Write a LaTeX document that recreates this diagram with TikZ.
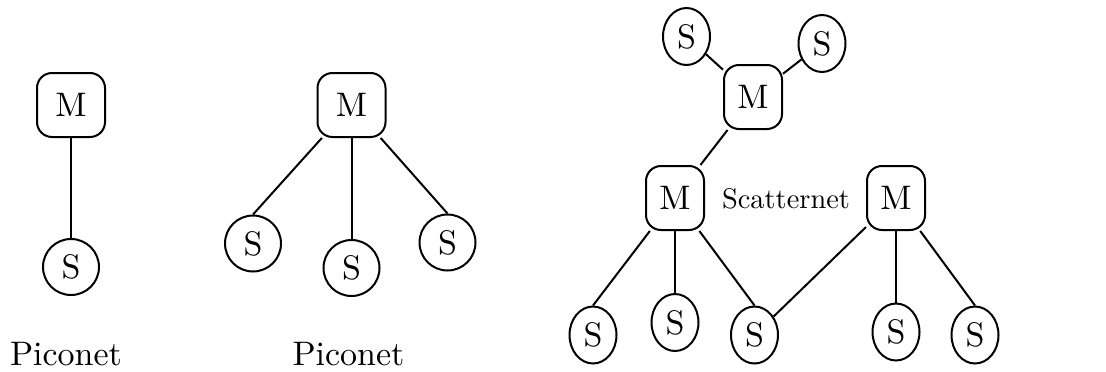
\documentclass[tikz,border=0pt]{standalone}
\usepackage{fontspec}
\setmainfont{lmroman10-regular.otf}
\usetikzlibrary{shapes.geometric}

\begin{document}
\begin{tikzpicture}[x=1pt,y=-1pt,line width=2pt,
    master/.style={draw,rounded corners=15pt,minimum width=68pt,minimum height=64pt,inner sep=0pt,font=\fontsize{34}{40}\selectfont},
    slave/.style={draw,circle,minimum size=56pt,inner sep=0pt,font=\fontsize{34}{40}\selectfont},
    smaster/.style={master,minimum width=58pt},
    sslave/.style={draw,ellipse,minimum width=47pt,minimum height=57pt,inner sep=0pt,font=\fontsize{34}{40}\selectfont},
    netlabel/.style={anchor=base,inner sep=0pt,font=\fontsize{34}{40}\selectfont}]
\useasboundingbox (0,0) rectangle (1106,372);

\node[master] (m1) at (71,105) {M};
\node[slave] (s1) at (71,267) {S};
\draw (m1) -- (s1);
\node[netlabel] (p1) at (66,365) {Piconet};

\node[master] (m2) at (351.5,105) {M};
\node[slave] (s2a) at (253,243.5) {S};
\node[slave] (s2b) at (351.5,268) {S};
\node[slave] (s2c) at (447.5,242.5) {S};
\draw (m2) -- (s2a.north);
\draw (m2) -- (s2b);
\draw (m2) -- (s2c.north);
\node[netlabel] (p2) at (348.5,365) {Piconet};

\node[smaster] (mt) at (753,97) {M};
\node[sslave] (stl) at (686.5,36.5) {S};
\node[sslave] (str) at (822,43.5) {S};
\node[smaster] (ml) at (675,198) {M};
\node[smaster] (mr) at (896,198) {M};
\node[netlabel,font=\fontsize{28.4}{34}\selectfont] (sc) at (786,208) {Scatternet};
\node[sslave] (sa) at (593,335) {S};
\node[sslave] (sb) at (675,322.5) {S};
\node[sslave] (sc2) at (754.5,335) {S};
\node[sslave] (sd) at (896,332) {S};
\node[sslave] (se) at (975,335) {S};

\draw (mt) -- (stl);
\draw (mt) -- (str);
\draw (mt) -- (ml);
\draw (ml) -- (sa.north);
\draw (ml) -- (sb);
\draw (ml) -- (sc2.north);
\draw (mr) -- (sc2);
\draw (mr) -- (sd);
\draw (mr) -- (se.north);
\end{tikzpicture}
\end{document}
